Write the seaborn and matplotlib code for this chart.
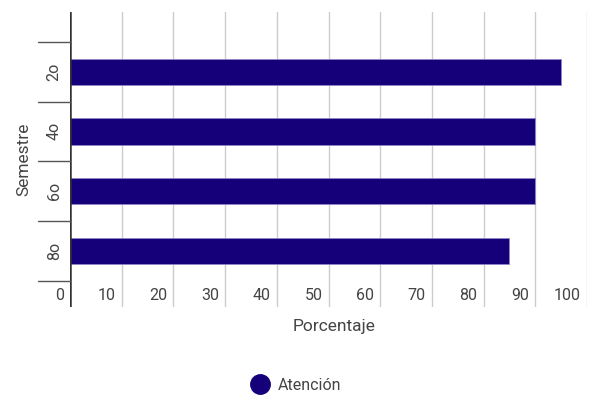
import matplotlib
matplotlib.use("Agg")
import matplotlib.pyplot as plt
import matplotlib.transforms as mtransforms
from matplotlib.lines import Line2D
import seaborn as sns
import pandas as pd

semestres = ["2o", "4o", "6o", "8o"]
atencion = [95, 90, 90, 85]
xticks = [0, 10, 20, 30, 40, 50, 60, 70, 80, 90, 100]
serie = "Atención"

BAR = "#15007a"
GRID = "#cccccc"
AXIS = "#333333"
TEXT = "#444444"

sns.set_theme(style="white")
plt.rcParams["font.family"] = ["Roboto", "DejaVu Sans"]

df = pd.DataFrame({"Semestre": semestres, "Porcentaje": atencion, "Serie": serie})

fig = plt.figure(figsize=(5.89, 3.95), dpi=100)
ax = fig.add_axes([70 / 589, 1 - 307 / 395, (587 - 70) / 589, (307 - 12) / 395])

sns.barplot(data=df, x="Porcentaje", y="Semestre", hue="Serie", orient="h",
            palette=[BAR], saturation=1, width=0.44, edgecolor="#8f86c8",
            linewidth=0.6, legend=False, ax=ax, zorder=3)

ax.set_xlim(0, 100)
ax.set_ylim(3.94, -1.0)
for s in ax.spines.values():
    s.set_visible(False)
ax.axvline(0, color=AXIS, lw=1.8, zorder=5)
for v in xticks[1:]:
    ax.axvline(v, color=GRID, lw=1.0, zorder=1)

# x tick labels sit just left of each gridline, inside the bottom strip
ax.set_xticks([])
off = mtransforms.offset_copy(ax.get_xaxis_transform(), fig=fig, x=-6, y=0, units="dots")
for v in xticks:
    ax.text(v, (307 - 296) / (307 - 12), str(v), transform=off, ha="right", va="center",
            fontsize=11.5, color=TEXT)

# category separators on the left
sep = ax.get_yaxis_transform()
for b in [i - 0.5 for i in range(len(semestres) + 1)]:
    ax.plot([-32 / 517, 0], [b, b], transform=sep, color="#555555", lw=1.0,
            clip_on=False, zorder=5)

ax.set_yticks(range(len(semestres)))
ax.set_yticklabels(semestres, rotation=90, va="center", fontsize=11.5, color=TEXT)
ax.tick_params(axis="y", length=0, pad=6)

ax.set_ylabel("Semestre", fontsize=12.5, color=TEXT, labelpad=11)
ax.set_xlabel("")
fig.text((293 + 375) / 2 / 589, 1 - 327 / 395, "Porcentaje", ha="center", va="center",
         fontsize=12.5, color=TEXT)

handle = Line2D([], [], marker="o", color="none", markerfacecolor=BAR,
                markeredgecolor=BAR, markersize=14)
fig.legend([handle], [serie], loc="center", bbox_to_anchor=(296 / 589, 1 - 385 / 395),
           frameon=False, fontsize=11.5, handletextpad=0.5, handlelength=1.2,
           labelcolor=TEXT)

fig.savefig("out.png", dpi=100)
